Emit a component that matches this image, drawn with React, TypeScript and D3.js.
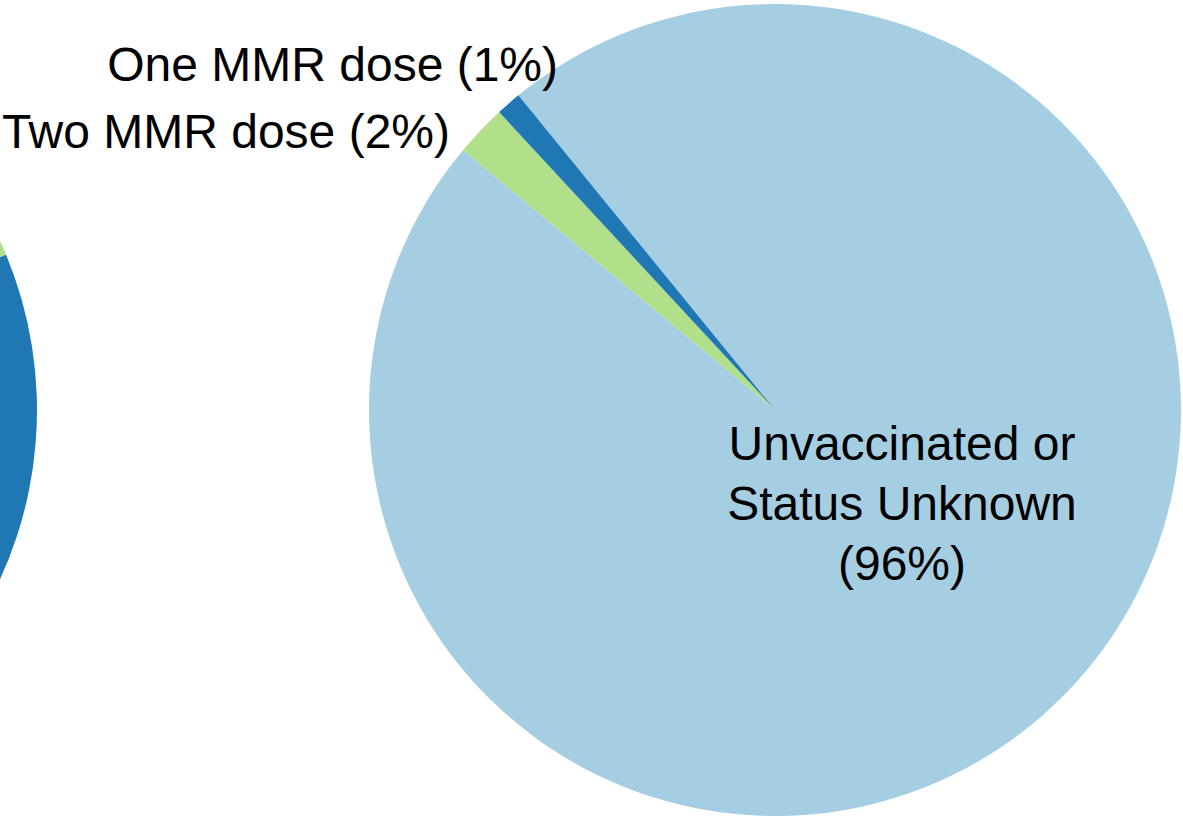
import React from 'react';
import * as d3 from 'd3';

const width = 1183;
const height = 818;

// slices in clockwise order, as Excel draws them
const categories = ['Unvaccinated or Status Unknown', 'Two MMR dose', 'One MMR dose'];
const colors = ['#a6cee3', '#b2df8a', '#1f78b4'];

const mainValues = [96.9, 2.05, 1.0];
const mainStart = -39.2; // degrees, first slice edge

// only the right rim of this pie shows at the left of the slide
const sideValues = [25, 15, 60];
const sideStart = -76.5;

const labelLines = ['Unvaccinated or', 'Status Unknown', '(96%)'];

const rad = (deg: number) => (deg * Math.PI) / 180;

function Pie({ cx, cy, r, values, start }: { cx: number; cy: number; r: number; values: number[]; start: number }) {
  const pie = d3.pie<number>()
    .sort(null)
    .startAngle(rad(start))
    .endAngle(rad(start) + 2 * Math.PI);
  const arc = d3.arc<d3.PieArcDatum<number>>().innerRadius(0).outerRadius(r);

  return (
    <g transform={`translate(${cx},${cy})`}>
      {pie(values).map((d, i) => (
        <path key={categories[i]} d={arc(d) || ''} fill={colors[i]} />
      ))}
    </g>
  );
}

export default function App() {
  const r = 406;
  const font = "'Liberation Sans', Arial, sans-serif";

  return (
    <svg width={width} height={height}
         style={{ position: 'absolute', left: 0, top: 0, background: '#fff' }}>
      <Pie cx={-369} cy={410} r={r} values={sideValues} start={sideStart} />
      <Pie cx={775} cy={410} r={r} values={mainValues} start={mainStart} />

      <g fontFamily={font} fontSize={48} fill="#000">
        <text x={558} y={81} textAnchor="end">One MMR dose (1%)</text>
        <text x={450} y={148} textAnchor="end">Two MMR dose (2%)</text>
        {labelLines.map((t, i) => (
          <text key={t} x={902} y={460 + i * 60} textAnchor="middle">{t}</text>
        ))}
      </g>
    </svg>
  );
}
